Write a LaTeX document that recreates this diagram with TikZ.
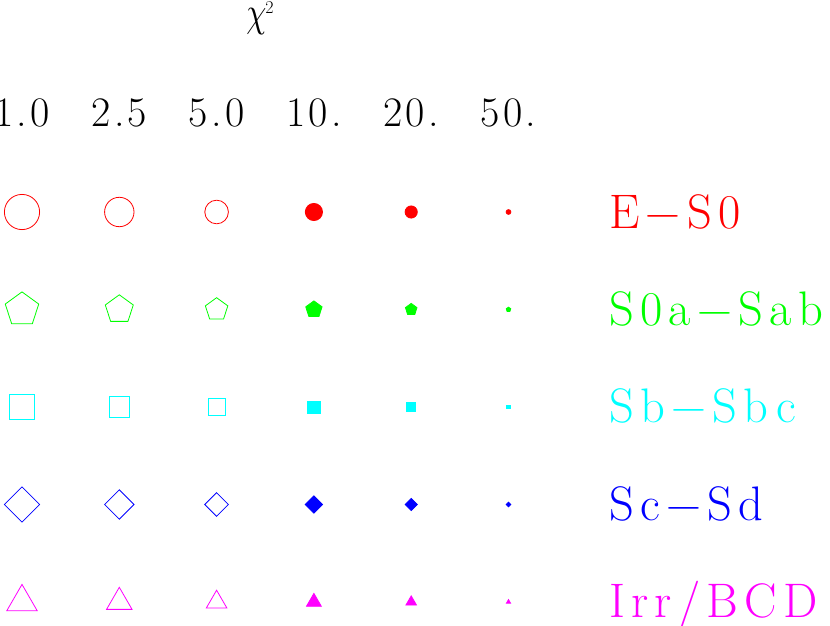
\documentclass[tikz,border=0pt]{standalone}
\usepackage{fontspec}
\usepackage{graphicx}
\usetikzlibrary{shapes.geometric}
\newfontfamily\labfam{lmroman17-regular.otf}[LetterSpace=13]
\newfontfamily\numfam{lmroman17-regular.otf}[LetterSpace=8]
\definecolor{cR}{rgb}{1,0,0}
\definecolor{cG}{rgb}{0,1,0}
\definecolor{cC}{rgb}{0,1,1}
\definecolor{cB}{rgb}{0,0,1}
\definecolor{cM}{rgb}{1,0,1}
\begin{document}
\begin{tikzpicture}[x=1pt,y=-1pt,
  mk/.style={inner sep=0pt, outer sep=0pt, line width=0.8pt},
  opn/.style={mk, draw=#1},
  fld/.style={mk, draw=#1, fill=#1},
  circ/.style={circle, minimum size=2*#1},
  pent/.style={regular polygon, regular polygon sides=5, minimum size=2*#1},
  sqr/.style={rectangle, minimum size=1.4142*#1},
  diam/.style={diamond, minimum size=2*#1},
  tri/.style={regular polygon, regular polygon sides=3, minimum size=2*#1},
  lab/.style={anchor=base west, inner sep=0pt, font={\labfam\fontsize{48.5}{48.5}\selectfont}},
  num/.style={anchor=base, inner sep=0pt, font={\numfam\fontsize{42}{42}\selectfont}}]
\useasboundingbox (0,0) rectangle (830,626);

% header
\node[anchor=base, inner sep=0pt] (chi) at (256.5,26.4) {\scalebox{3.2}[4.2]{$\chi$}};
\node[anchor=base, inner sep=0pt, font={\numfam\fontsize{18}{18}\selectfont}] (chisq) at (269.5,13.6) {2};

\node[num] (n1) at (22.0,126.7) {1.0};
\node[num] (n2) at (119.3,126.7) {2.5};
\node[num] (n3) at (216.6,126.7) {5.0};
\node[num] (n4) at (313.9,126.7) {10.};
\node[num] (n5) at (411.2,126.7) {20.};
\node[num] (n6) at (508.5,126.7) {50.};

% open markers
\foreach \c/\x/\r in {1/22.0/17.6, 2/119.3/14.7, 3/216.6/11.8}{
  \node[opn=cR, circ=\r] (c\c) at (\x,212) {};
  \node[opn=cG, pent=\r] (p\c) at (\x,309.5) {};
  \node[opn=cC, sqr=\r] (s\c) at (\x,407) {};
  \node[opn=cB, diam=\r] (d\c) at (\x,504.5) {};
  \node[opn=cM, tri=\r] (t\c) at (\x,602) {};
}
% filled markers
\foreach \c/\x/\r in {4/313.9/8.6, 5/411.2/6.1, 6/508.5/2.4}{
  \node[fld=cR, circ=\r] (c\c) at (\x,212) {};
  \node[fld=cG, pent=\r] (p\c) at (\x,309.5) {};
  \node[fld=cC, sqr=\r] (s\c) at (\x,407) {};
  \node[fld=cB, diam=\r] (d\c) at (\x,504.5) {};
  \node[fld=cM, tri=\r] (t\c) at (\x,602) {};
}

% labels
\node[lab, text=cR] (lE) at (609,228.3) {E−S0};
\node[lab, text=cG] (lS0a) at (609,325.5) {S0a−Sab};
\node[lab, text=cC] (lSb) at (609,422.5) {Sb−Sbc};
\node[lab, text=cB] (lSc) at (609,520) {Sc−Sd};
\node[lab, text=cM] (lIrr) at (609,617) {Irr/BCD};
\end{tikzpicture}
\end{document}
